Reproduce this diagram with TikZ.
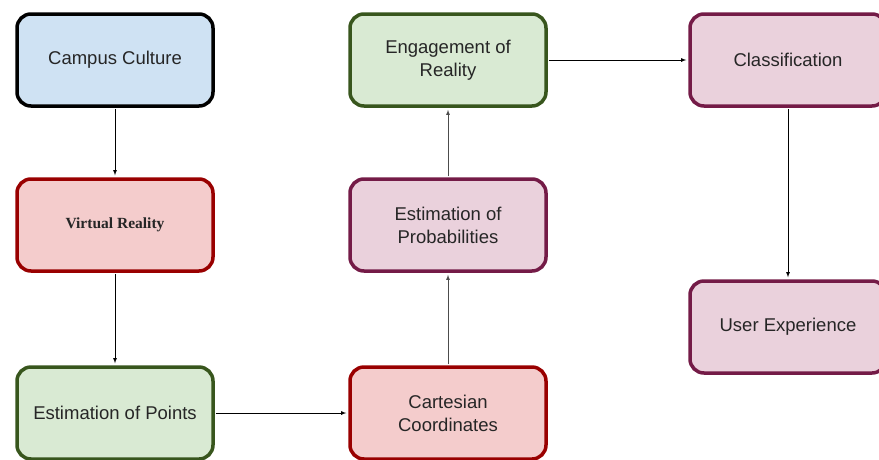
\documentclass[tikz,border=0pt]{standalone}
\usepackage{fontspec}
\setmainfont{Liberation Sans}
\newfontfamily\vrfont{Liberation Serif}
\usepackage{tikz}
\usetikzlibrary{arrows}
\definecolor{bluefill}{HTML}{CFE2F3}
\definecolor{redfill}{HTML}{F4CCCC}
\definecolor{reddraw}{HTML}{990000}
\definecolor{greenfill}{HTML}{D9EAD3}
\definecolor{greendraw}{HTML}{38561D}
\definecolor{pinkfill}{HTML}{EAD1DC}
\definecolor{pinkdraw}{HTML}{741B47}
\tikzset{
  box/.style={rectangle, rounded corners=14pt, line width=3.5pt, minimum width=196pt,
    minimum height=92pt, align=center, font=\fontsize{18.5}{23}\selectfont, text=black!85},
  bluebox/.style={box, fill=bluefill, draw=black},
  redbox/.style={box, fill=redfill, draw=reddraw},
  greenbox/.style={box, fill=greenfill, draw=greendraw},
  pinkbox/.style={box, fill=pinkfill, draw=pinkdraw},
  link/.style={-latex, line width=0.8pt, shorten >=2pt, shorten <=1pt}
}

\begin{document}
\begin{tikzpicture}[x=1pt,y=1pt]
    \useasboundingbox (0,0) rectangle (879,-459);
    \clip (0,0) rectangle (879,-459);

    \node(cc) at (115,-60) [bluebox] {Campus Culture};
    \node(vr) at (115,-225) [redbox] {\vrfont\bfseries\fontsize{15.5}{19}\selectfont Virtual Reality};
    \node(ep) at (115,-413) [greenbox] {Estimation of Points};

    \node(cart) at (448,-413) [redbox] {Cartesian\\Coordinates};
    \node(prob) at (448,-225) [pinkbox] {Estimation of\\Probabilities};
    \node(eng) at (448,-60) [greenbox] {Engagement of\\Reality};

    \node(cls) at (788,-60) [pinkbox] {Classification};
    \node(ux) at (788,-327) [pinkbox] {User Experience};

    \draw[link] (cc) -- (vr);
    \draw[link] (vr) -- (ep);
    \draw[link] (ep) -- (cart);
    \draw[link, black!70] (cart) -- (prob);
    \draw[link, black!70] (prob) -- (eng);
    \draw[link] (eng) -- (cls);
    \draw[link] (cls) -- (ux);
\end{tikzpicture}
\end{document}
